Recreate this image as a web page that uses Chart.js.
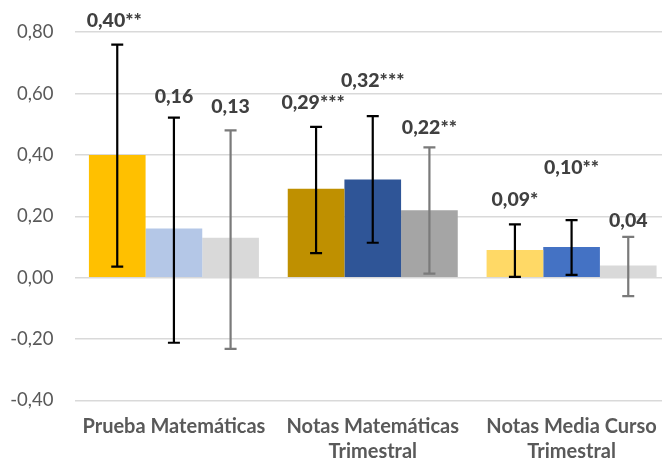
<!DOCTYPE html>
<html>
<head>
<meta charset="utf-8">
<script src="https://cdn.jsdelivr.net/npm/chart.js@4/dist/chart.umd.min.js"></script>
<style>
  html, body { margin: 0; padding: 0; background: #ffffff; overflow: hidden; }
  #wrap { position: relative; width: 671px; height: 462px; }
</style>
</head>
<body>
<div id="wrap"><canvas id="chart" width="671" height="462"></canvas></div>
<script>
// Outcome groups on the x axis
const categories = [
  ["Prueba Matemáticas"],
  ["Notas Matemáticas", "Trimestral"],
  ["Notas Media Curso", "Trimestral"]
];

// Y axis ticks
const yTicks = [-0.4, -0.2, 0.0, 0.2, 0.4, 0.6, 0.8];

// Effect sizes: first, second and third bar of each group
const seriesA = [0.40, 0.29, 0.09];
const seriesB = [0.16, 0.32, 0.10];
const seriesC = [0.13, 0.22, 0.04];

// Confidence interval bounds
const lowA  = [0.036, 0.080, 0.003];
const highA = [0.760, 0.492, 0.174];
const lowB  = [-0.212, 0.114, 0.009];
const highB = [0.522, 0.527, 0.188];
const lowC  = [-0.232, 0.013, -0.060];
const highC = [0.480, 0.425, 0.133];

// Value labels with significance stars
const labelsA = ["0,40**", "0,29***", "0,09*"];
const labelsB = ["0,16", "0,32***", "0,10**"];
const labelsC = ["0,13", "0,22**", "0,04"];

// Bar colours per group
const coloursA = ["#FFC000", "#BF9000", "#FFD966"];
const coloursB = ["#B4C7E7", "#2F5597", "#4472C4"];
const coloursC = ["#D9D9D9", "#A5A5A5", "#D9D9D9"];

const FONT = "Lato";

// Draws whiskers and the value label above each one
const errorBarPlugin = {
  id: "errorBars",
  afterDatasetsDraw(chart, args, opts) {
    const ctx = chart.ctx;
    const y = chart.scales.y;
    chart.data.datasets.forEach((ds, di) => {
      const meta = chart.getDatasetMeta(di);
      meta.data.forEach((bar, i) => {
        const x = bar.x;
        const yHi = y.getPixelForValue(ds.errHigh[i]);
        const yLo = y.getPixelForValue(ds.errLow[i]);
        const half = opts.capWidth / 2;
        ctx.save();
        ctx.strokeStyle = ds.errColour;
        ctx.lineWidth = opts.lineWidth;
        ctx.beginPath();
        ctx.moveTo(x, yHi); ctx.lineTo(x, yLo);
        ctx.moveTo(x - half, yHi); ctx.lineTo(x + half, yHi);
        ctx.moveTo(x - half, yLo); ctx.lineTo(x + half, yLo);
        ctx.stroke();
        ctx.fillStyle = "#404040";
        ctx.font = "900 19.5px " + FONT;
        ctx.textAlign = "center";
        ctx.textBaseline = "middle";
        ctx.fillText(ds.valueLabels[i], x - opts.shift[di][i], yHi - opts.lift[di][i]);
        ctx.restore();
      });
    });
  }
};

const fmt = v => v.toFixed(2).replace(".", ",");

new Chart(document.getElementById("chart"), {
  type: "bar",
  data: {
    labels: categories,
    datasets: [
      { data: seriesA, backgroundColor: coloursA, errLow: lowA, errHigh: highA, valueLabels: labelsA, errColour: "#000000" },
      { data: seriesB, backgroundColor: coloursB, errLow: lowB, errHigh: highB, valueLabels: labelsB, errColour: "#000000" },
      { data: seriesC, backgroundColor: coloursC, errLow: lowC, errHigh: highC, valueLabels: labelsC, errColour: "#7A7A7A" }
    ]
  },
  options: {
    responsive: false,
    animation: false,
    layout: { padding: { top: 32.3, right: 0, bottom: 0, left: 0 } },
    categoryPercentage: 0.855,
    barPercentage: 1.0,
    plugins: {
      legend: { display: false },
      tooltip: { enabled: false },
      errorBars: {
        capWidth: 12,
        lineWidth: 2.2,
        lift: [[24, 24, 25], [21, 35, 52], [24, 20, 16]],
        shift: [[3, 3, 0], [0, 0, 0], [0, 0, 0]]
      }
    },
    scales: {
      x: {
        grid: { display: false, drawTicks: false },
        border: { display: false },
        ticks: {
          color: "#595959",
          padding: 14,
          maxRotation: 0,
          autoSkip: false,
          font: { family: FONT, size: 20, weight: "bold", lineHeight: 1.25 }
        },
        afterFit(scale) { scale.height = 61.6; }
      },
      y: {
        min: -0.4,
        max: 0.8,
        afterBuildTicks(scale) { scale.ticks = yTicks.map(v => ({ value: v })); },
        grid: { color: "#D9D9D9", lineWidth: 1.6, drawTicks: false },
        border: { display: false },
        ticks: {
          color: "#595959",
          padding: 21,
          font: { family: FONT, size: 18.5 },
          callback: v => fmt(v)
        },
        afterFit(scale) { scale.width = 74.5; }
      }
    }
  },
  plugins: [errorBarPlugin]
});
</script>
</body>
</html>
